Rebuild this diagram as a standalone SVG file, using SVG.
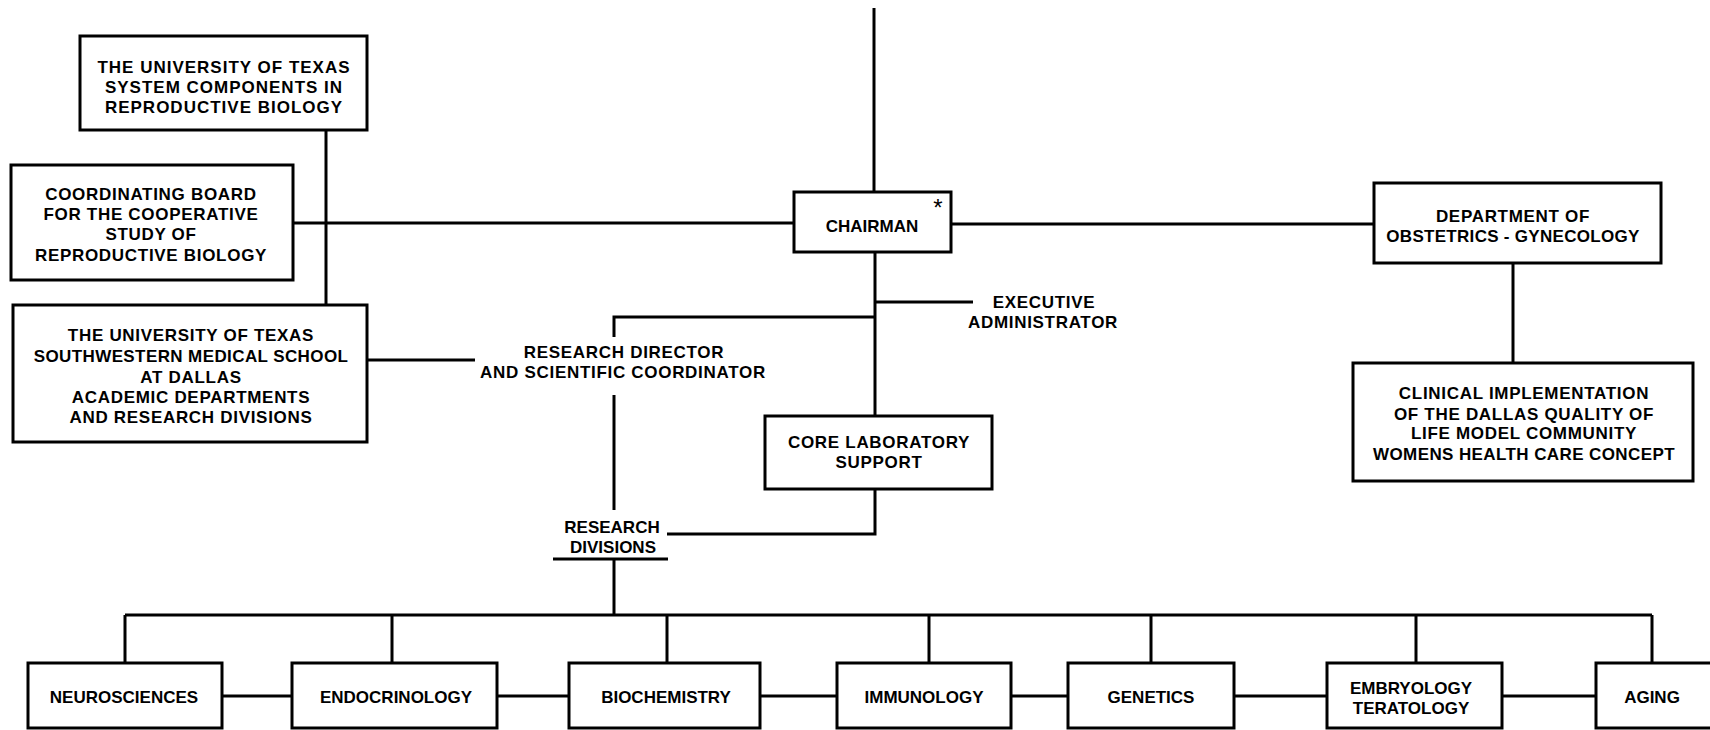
<svg xmlns="http://www.w3.org/2000/svg" width="1710" height="730" viewBox="0 0 1710 730">
<style>
.bg{fill:#fff}
.box{fill:#fff;stroke:#000;stroke-width:3}
.ln{fill:none;stroke:#000;stroke-width:3}
text{font-family:"Liberation Sans",Arial,sans-serif;font-weight:bold;font-size:17px;fill:#000;text-anchor:middle}
.sp{letter-spacing:0.7px}
.ast{font-weight:normal;font-size:24px}
</style>
<rect class="bg" x="0" y="0" width="1710" height="730"/>
<g id="connectors">
<path class="ln" d="M874 8V192"/>
<path class="ln" d="M293 223H794"/>
<path class="ln" d="M951 224H1374"/>
<path class="ln" d="M326 130V305"/>
<path class="ln" d="M367 360H475"/>
<path class="ln" d="M875 252V416"/>
<path class="ln" d="M875 302H973"/>
<path class="ln" d="M875 317H614V337"/>
<path class="ln" d="M614 395V510"/>
<path class="ln" d="M875 489V534H667"/>
<path class="ln" d="M553 559H668"/>
<path class="ln" d="M614 559V615"/>
<path class="ln" d="M1513 263V363"/>
<path class="ln" d="M125 615H1652"/>
<path class="ln" d="M125 615V663M392 615V663M667 615V663M929 615V663M1151 615V663M1416 615V663M1652 615V663"/>
<path class="ln" d="M222 696H292M497 696H569M760 696H837M1011 696H1068M1234 696H1327M1502 696H1596"/>
</g>
<g id="ut-system" class="sp">
<rect class="box" x="80" y="36" width="287" height="94"/>
<text x="224" y="73" style="letter-spacing:1px">THE UNIVERSITY OF TEXAS</text>
<text x="224" y="93" style="letter-spacing:1px">SYSTEM COMPONENTS IN</text>
<text x="224" y="113" style="letter-spacing:1px">REPRODUCTIVE BIOLOGY</text>
</g>
<g id="coordinating-board" class="sp">
<rect class="box" x="11" y="165" width="282" height="115"/>
<text x="151" y="200">COORDINATING BOARD</text>
<text x="151" y="220">FOR THE COOPERATIVE</text>
<text x="151" y="240">STUDY OF</text>
<text x="151" y="261">REPRODUCTIVE BIOLOGY</text>
</g>
<g id="southwestern" class="sp">
<rect class="box" x="13" y="305" width="354" height="137"/>
<text x="191" y="341">THE UNIVERSITY OF TEXAS</text>
<text x="191" y="362" style="letter-spacing:0.4px">SOUTHWESTERN MEDICAL SCHOOL</text>
<text x="191" y="383">AT DALLAS</text>
<text x="191" y="403">ACADEMIC DEPARTMENTS</text>
<text x="191" y="423">AND RESEARCH DIVISIONS</text>
</g>
<g id="chairman">
<rect class="box" x="794" y="192" width="157" height="60"/>
<text x="872" y="232">CHAIRMAN</text>
<text class="ast" x="938" y="216">*</text>
</g>
<g id="executive-administrator" class="sp">
<text x="1044" y="308">EXECUTIVE</text>
<text x="1043" y="328">ADMINISTRATOR</text>
</g>
<g id="research-director" class="sp">
<text x="624" y="358">RESEARCH DIRECTOR</text>
<text x="623" y="378">AND SCIENTIFIC COORDINATOR</text>
</g>
<g id="core-laboratory" class="sp">
<rect class="box" x="765" y="416" width="227" height="73"/>
<text x="879" y="448">CORE LABORATORY</text>
<text x="879" y="468">SUPPORT</text>
</g>
<g id="research-divisions">
<text x="612" y="533">RESEARCH</text>
<text x="613" y="553">DIVISIONS</text>
</g>
<g id="obgyn" class="sp">
<rect class="box" x="1374" y="183" width="287" height="80"/>
<text x="1513" y="222">DEPARTMENT OF</text>
<text x="1513" y="242" style="letter-spacing:0.3px">OBSTETRICS - GYNECOLOGY</text>
</g>
<g id="clinical" class="sp">
<rect class="box" x="1353" y="363" width="340" height="118"/>
<text x="1524" y="399">CLINICAL IMPLEMENTATION</text>
<text x="1524" y="420">OF THE DALLAS QUALITY OF</text>
<text x="1524" y="439">LIFE MODEL COMMUNITY</text>
<text x="1524" y="460" style="letter-spacing:0.4px">WOMENS HEALTH CARE CONCEPT</text>
</g>
<g id="neurosciences">
<rect class="box" x="28" y="663" width="194" height="65"/>
<text x="124" y="703">NEUROSCIENCES</text>
</g>
<g id="endocrinology">
<rect class="box" x="292" y="663" width="205" height="65"/>
<text x="396" y="703">ENDOCRINOLOGY</text>
</g>
<g id="biochemistry">
<rect class="box" x="569" y="663" width="191" height="65"/>
<text x="666" y="703">BIOCHEMISTRY</text>
</g>
<g id="immunology">
<rect class="box" x="837" y="663" width="174" height="65"/>
<text x="924" y="703">IMMUNOLOGY</text>
</g>
<g id="genetics">
<rect class="box" x="1068" y="663" width="166" height="65"/>
<text x="1151" y="703">GENETICS</text>
</g>
<g id="embryology">
<rect class="box" x="1327" y="663" width="175" height="65"/>
<text x="1411" y="694">EMBRYOLOGY</text>
<text x="1411" y="714">TERATOLOGY</text>
</g>
<g id="aging">
<rect class="box" x="1596" y="663" width="120" height="65"/>
<text x="1652" y="703">AGING</text>
</g>
</svg>
